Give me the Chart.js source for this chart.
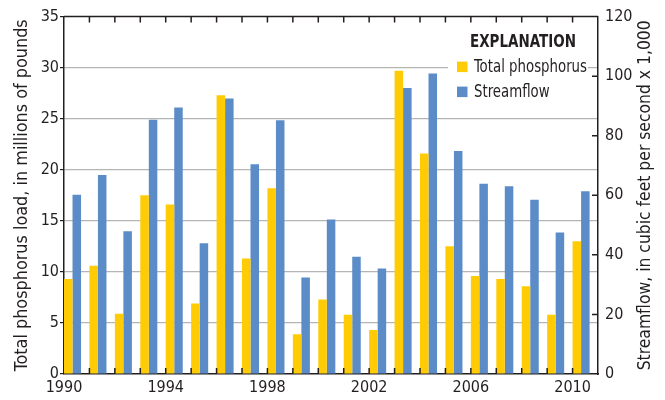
<!DOCTYPE html>
<html>
<head>
<meta charset="utf-8">
<script src="https://cdn.jsdelivr.net/npm/chart.js@4.4.0/dist/chart.umd.min.js"></script>
<style>
html, body { margin: 0; padding: 0; background: #fff; }
#wrap { width: 665px; height: 400px; }
</style>
</head>
<body>
<div id="wrap"><canvas id="chart" width="665" height="400"></canvas></div>
<script>
// values
var years = [1990, 1991, 1992, 1993, 1994, 1995, 1996, 1997, 1998, 1999, 2000,
             2001, 2002, 2003, 2004, 2005, 2006, 2007, 2008, 2009, 2010];
// total phosphorus load, millions of pounds
var phosphorus = [9.3, 10.6, 5.9, 17.5, 16.6, 6.9, 27.3, 11.3, 18.2, 3.9, 7.3,
                  5.8, 4.3, 29.7, 21.6, 12.5, 9.6, 9.3, 8.6, 5.8, 13.0];
// streamflow, cubic feet per second x 1,000
var streamflow = [60.2, 66.8, 47.9, 85.4, 89.5, 43.9, 92.5, 70.4, 85.2, 32.4, 51.9,
                  39.4, 35.4, 96.0, 100.9, 74.9, 63.9, 63.0, 58.5, 47.5, 61.4];
var yearLabels = [1990, 1994, 1998, 2002, 2006, 2010];
var seriesNames = ['Total phosphorus', 'Streamflow'];
var seriesColors = ['#FFCB05', '#5B8CC8'];
var legendTitle = 'EXPLANATION';
var leftTitle = 'Total phosphorus load, in millions of pounds';
var rightTitle = 'Streamflow, in cubic feet per second x 1,000';

var narrow = "'Liberation Sans Narrow', 'DejaVu Sans Condensed', 'Arial Narrow', sans-serif";
Chart.defaults.font.family = narrow;
Chart.defaults.font.size = 16;
Chart.defaults.color = '#231f20';

// bars sit at the left of each year slot
var shift = 0.335;

function toPoints(vals) {
    return vals.map(function (v, i) { return {x: years[i] + shift, y: v}; });
}

// text squeezed to the width the condensed original takes
function squeezed(ctx, text, x, y, w) {
    var real = ctx.measureText(text).width;
    ctx.fillText(text, x, y, Math.min(real, w));
}

var frame = {
    id: 'frame',
    afterDraw: function (chart) {
        var ctx = chart.ctx, a = chart.chartArea;
        var xs = chart.scales.x, ry = chart.scales.y1;
        ctx.save();
        ctx.strokeStyle = '#231f20';
        ctx.lineWidth = 1.5;
        ctx.beginPath();
        ctx.moveTo(a.left, a.top);
        ctx.lineTo(a.right, a.top);
        // inward year ticks, top and bottom
        for (var yr = years[0] + 1; yr <= years[years.length - 1]; yr++) {
            var px = xs.getPixelForValue(yr);
            ctx.moveTo(px, a.bottom);
            ctx.lineTo(px, a.bottom - 6);
            ctx.moveTo(px, a.top);
            ctx.lineTo(px, a.top + 6);
        }
        // inward ticks on the right axis
        ry.ticks.forEach(function (t) {
            if (t.value > ry.min && t.value < ry.max) {
                var py = ry.getPixelForValue(t.value);
                ctx.moveTo(a.right - 6, py);
                ctx.lineTo(a.right, py);
            }
        });
        ctx.stroke();

        // legend box
        ctx.fillStyle = '#fff';
        ctx.fillRect(a.right - 150, a.top + 8, 140, 82);
        ctx.fillStyle = '#231f20';
        ctx.textBaseline = 'middle';
        ctx.textAlign = 'center';
        ctx.font = 'bold 18px ' + narrow;
        squeezed(ctx, legendTitle, a.right - 75, a.top + 26, 106);
        ctx.textAlign = 'left';
        ctx.font = '17px ' + narrow;
        var fit = Math.min(1, 113 / ctx.measureText(seriesNames[0]).width);
        for (var i = 0; i < seriesNames.length; i++) {
            var ly = a.top + 45 + i * 25;
            ctx.fillStyle = seriesColors[i];
            ctx.fillRect(a.right - 141, ly, 10.5, 10.5);
            ctx.fillStyle = '#231f20';
            squeezed(ctx, seriesNames[i], a.right - 124, ly + 5.5, ctx.measureText(seriesNames[i]).width * fit);
        }

        // axis titles, both read bottom to top
        var cy = (a.top + a.bottom) / 2;
        ctx.textAlign = 'center';
        ctx.font = '18px ' + narrow;
        ctx.save();
        ctx.translate(22, cy);
        ctx.rotate(-Math.PI / 2);
        squeezed(ctx, leftTitle, 0, 0, 352);
        ctx.restore();
        ctx.save();
        ctx.translate(645, cy);
        ctx.rotate(-Math.PI / 2);
        squeezed(ctx, rightTitle, 0, 0, 350);
        ctx.restore();
        ctx.restore();
    }
};

var chart = new Chart(document.getElementById('chart'), {
    type: 'bar',
    data: {
        datasets: [
            {label: seriesNames[0], data: toPoints(phosphorus), backgroundColor: seriesColors[0], yAxisID: 'y'},
            {label: seriesNames[1], data: toPoints(streamflow), backgroundColor: seriesColors[1], yAxisID: 'y1'}
        ]
    },
    options: {
        responsive: false,
        animation: false,
        layout: {padding: {top: 15, left: 0, right: 0, bottom: 0}},
        categoryPercentage: 0.67,
        barPercentage: 1.0,
        plugins: {
            legend: {display: false},
            tooltip: {enabled: false}
        },
        scales: {
            x: {
                type: 'linear',
                offset: false,
                min: years[0],
                max: years[years.length - 1] + 1,
                grid: {display: false, offset: false, drawTicks: false},
                border: {display: true, color: '#231f20', width: 1.5},
                ticks: {
                    stepSize: 1,
                    autoSkip: false,
                    maxRotation: 0,
                    padding: 4,
                    callback: function (v) { return yearLabels.indexOf(v) >= 0 ? String(v) : ''; }
                },
                afterFit: function (s) { s.height = 26; }
            },
            y: {
                position: 'left',
                min: 0,
                max: 35,
                grid: {
                    color: function (c) { return (c.tick.value === 0 || c.tick.value === 35) ? 'rgba(0,0,0,0)' : '#b5b5b5'; },
                    lineWidth: 1.2,
                    tickLength: 4,
                    tickColor: '#231f20'
                },
                border: {display: true, color: '#231f20', width: 1.5},
                ticks: {stepSize: 5, padding: 1},
                afterFit: function (s) { s.width = 64; }
            },
            y1: {
                position: 'right',
                min: 0,
                max: 120,
                grid: {drawOnChartArea: false, drawTicks: false},
                border: {display: true, color: '#231f20', width: 1.5},
                ticks: {stepSize: 20, padding: 7},
                afterFit: function (s) { s.width = 67; }
            }
        }
    },
    plugins: [frame]
});
</script>
</body>
</html>
